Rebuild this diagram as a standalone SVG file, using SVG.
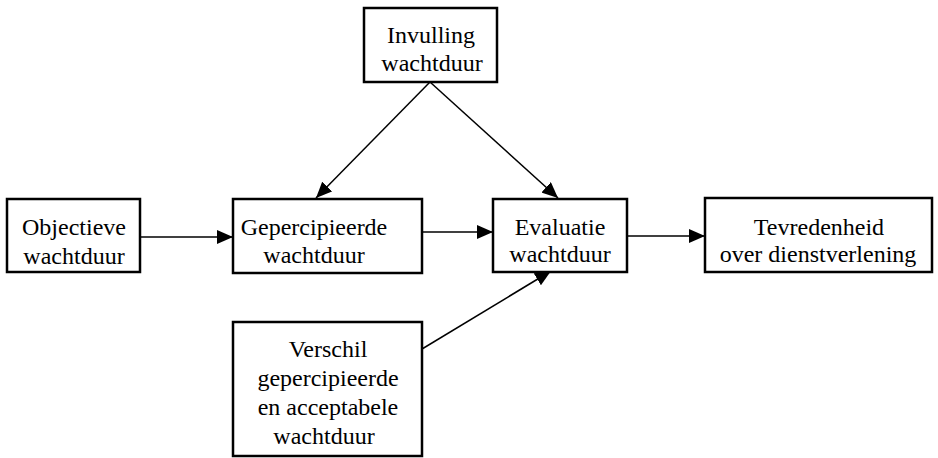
<svg xmlns="http://www.w3.org/2000/svg" width="938" height="458" viewBox="0 0 938 458">
<style>
.box{fill:#fff;stroke:#000;stroke-width:2.5}
.t{font-family:"Liberation Serif","Times New Roman",serif;font-size:24px;fill:#000;text-anchor:middle}
.c{stroke:#000;stroke-width:1.5;fill:none;marker-end:url(#ah)}
</style>
<defs>
<marker id="ah" markerUnits="userSpaceOnUse" markerWidth="16" markerHeight="14" refX="16" refY="7" orient="auto" viewBox="0 0 16 14">
<path d="M0,0 L16,7 L0,14 z" fill="#000"/>
</marker>
</defs>
<rect width="938" height="458" fill="#fff"/>
<g id="connectors">
<line class="c" x1="140" y1="237" x2="233" y2="237"/>
<line class="c" x1="422" y1="232" x2="493" y2="232"/>
<line class="c" x1="627" y1="236" x2="705" y2="236"/>
<line class="c" x1="430" y1="82" x2="316" y2="198"/>
<line class="c" x1="430" y1="82" x2="558" y2="198"/>
<line class="c" x1="422" y1="349" x2="551" y2="271"/>
</g>
<g id="objectieve">
<rect class="box" x="7" y="199" width="133" height="73"/>
<text class="t" x="74" y="235">Objectieve</text>
<text class="t" x="74" y="264">wachtduur</text>
</g>
<g id="gepercipieerde">
<rect class="box" x="233" y="199" width="189" height="74"/>
<text class="t" x="314" y="235">Gepercipieerde</text>
<text class="t" x="314" y="263">wachtduur</text>
</g>
<g id="evaluatie">
<rect class="box" x="493" y="199" width="134" height="73"/>
<text class="t" x="560" y="235">Evaluatie</text>
<text class="t" x="560" y="262">wachtduur</text>
</g>
<g id="tevredenheid">
<rect class="box" x="705" y="198" width="227" height="74"/>
<text class="t" x="819" y="235">Tevredenheid</text>
<text class="t" x="818" y="262">over dienstverlening</text>
</g>
<g id="invulling">
<rect class="box" x="364" y="8" width="133" height="74"/>
<text class="t" x="431" y="43">Invulling</text>
<text class="t" x="432" y="71">wachtduur</text>
</g>
<g id="verschil">
<rect class="box" x="233" y="322" width="189" height="134"/>
<text class="t" x="328" y="357">Verschil</text>
<text class="t" x="328" y="386">gepercipieerde</text>
<text class="t" x="328" y="415">en acceptabele</text>
<text class="t" x="324" y="444">wachtduur</text>
</g>
</svg>
